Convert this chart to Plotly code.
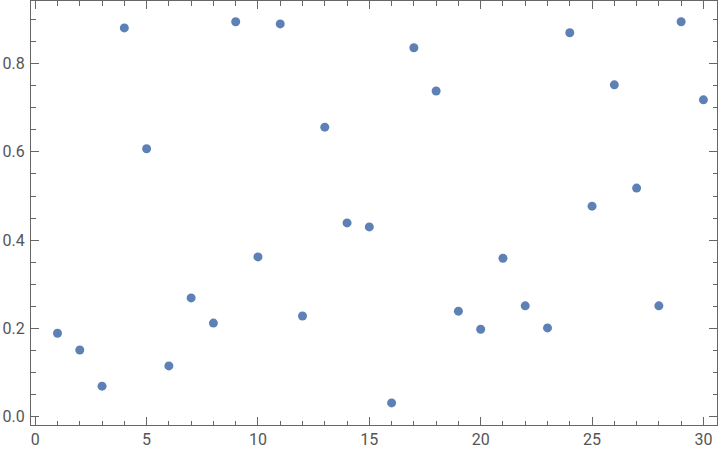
import plotly.graph_objects as go

x_vals = list(range(1, 31))
y_vals = [0.189, 0.151, 0.069, 0.881, 0.607, 0.115, 0.269, 0.212, 0.895, 0.362,
          0.890, 0.228, 0.656, 0.439, 0.430, 0.031, 0.836, 0.738, 0.239, 0.198,
          0.359, 0.251, 0.201, 0.870, 0.477, 0.752, 0.518, 0.251, 0.895, 0.718]

x_ticks = [0, 5, 10, 15, 20, 25, 30]
y_ticks = [0.0, 0.2, 0.4, 0.6, 0.8]
y_tick_labels = ["0.0", "0.2", "0.4", "0.6", "0.8"]

fig = go.Figure(go.Scatter(
    x=x_vals, y=y_vals, mode="markers",
    marker=dict(color="#5E81B5", size=9, line=dict(width=0)),
))

axis_common = dict(
    showgrid=False, zeroline=False, showline=True, linecolor="#666666", linewidth=1,
    mirror="ticks", ticks="inside", ticklen=8, tickcolor="#666666", tickwidth=1,
    tickfont=dict(family="Roboto", size=16, color="#555555"), automargin=False,
)

fig.update_xaxes(range=[-0.19, 30.61], tickvals=x_ticks,
                 minor=dict(dtick=1, tick0=0, ticklen=4.5, tickcolor="#666666", ticks="inside", showgrid=False),
                 **axis_common)
fig.update_yaxes(range=[-0.019, 0.942], tickvals=y_ticks, ticktext=y_tick_labels,
                 ticklabelstandoff=2,
                 minor=dict(dtick=0.05, tick0=0, ticklen=4.5, tickcolor="#666666", ticks="inside", showgrid=False),
                 **axis_common)

fig.update_layout(
    width=720, height=455, margin=dict(l=31, r=3, t=1, b=30),
    plot_bgcolor="white", paper_bgcolor="white", showlegend=False,
)

fig.write_html("out.html", config={"displayModeBar": False},
               post_script="document.body.style.margin='0';document.body.style.overflow='hidden';")
